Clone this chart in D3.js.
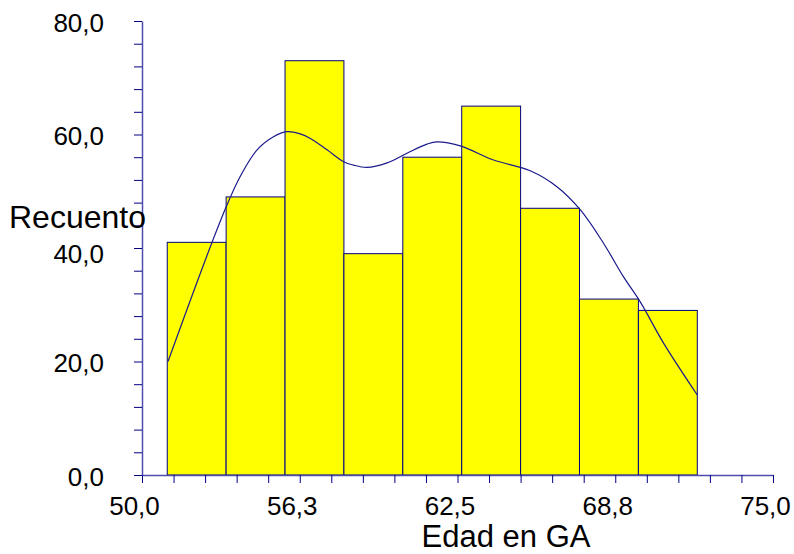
<!DOCTYPE html>
<html>
<head>
<meta charset="utf-8">
<script src="https://cdn.jsdelivr.net/npm/d3@7"></script>
<style>
  html, body { margin: 0; padding: 0; background: #ffffff; }
  svg { display: block; font-family: "Liberation Sans", Arial, sans-serif; }
</style>
</head>
<body>
<svg id="chart" width="794" height="554"></svg>
<script>
// ---- data ----
const binEdges = [51, 53.333, 55.667, 58, 60.333, 62.667, 65, 67.333, 69.667, 72];
const counts = [41, 49, 73, 39, 56, 65, 47, 31, 29];
const curveX = [51.03, 52.51, 53.34, 53.89, 54.56, 55.21, 55.74, 56.27, 56.67, 57.33, 57.99, 58.38, 58.91, 59.71, 60.50, 61.29, 61.69, 62.61, 63.93, 65.38, 66.44, 67.37, 68.29, 69.08, 69.74, 70.67, 72.0];
const curveY = [20.0, 37.9, 47.3, 52.6, 57.3, 59.6, 60.5, 60.1, 59.3, 57.3, 55.2, 54.6, 54.2, 55.0, 56.7, 58.3, 58.7, 58.0, 55.5, 53.6, 50.8, 46.7, 40.8, 34.9, 30.5, 23.2, 14.1];
const xTickValues = [50, 56.25, 62.5, 68.75, 75];
const xTickLabels = ["50,0", "56,3", "62,5", "68,8", "75,0"];
const yTickValues = [0, 20, 40, 60, 80];
const yTickLabels = ["0,0", "20,0", "40,0", "60,0", "80,0"];
const xTitle = "Edad en GA";
const yTitle = "Recuento";

// ---- drawing ----
const svg = d3.select("#chart");
const navy = "#000080";
const x = d3.scaleLinear().domain([50, 75]).range([142, 773]);
const y = d3.scaleLinear().domain([0, 80]).range([475, 21]);

// bars
const bars = counts.map((c, i) => ({ x0: binEdges[i], x1: binEdges[i + 1], v: c }));
svg.append("g").selectAll("rect").data(bars).join("rect")
  .attr("x", d => x(d.x0))
  .attr("y", d => y(d.v))
  .attr("width", d => x(d.x1) - x(d.x0))
  .attr("height", d => y(0) - y(d.v))
  .attr("fill", "#ffff00")
  .attr("stroke", navy)
  .attr("stroke-width", 1);

// curve
const pts = curveX.map((v, i) => [v, curveY[i]]);
svg.append("path")
  .datum(pts)
  .attr("fill", "none")
  .attr("stroke", "#1a1a8c")
  .attr("stroke-width", 1.2)
  .attr("d", d3.line().x(d => x(d[0])).y(d => y(d[1])).curve(d3.curveCatmullRom.alpha(0.5)));

// x axis
const xMinor = d3.range(0, 21).map(i => 50 + i * 1.25);
const xAxis = svg.append("g")
  .attr("transform", `translate(0,${y(0)})`)
  .call(d3.axisBottom(x).tickValues(xMinor).tickSize(8).tickSizeOuter(0)
    .tickFormat(d => {
      const k = xTickValues.findIndex(v => Math.abs(v - d) < 1e-6);
      return k >= 0 ? xTickLabels[k] : "";
    }));
xAxis.select(".domain").attr("stroke", "#4d4dab").attr("stroke-width", 1.5);
xAxis.selectAll(".tick line").attr("stroke", navy);
xAxis.selectAll(".tick text")
  .attr("fill", "#000")
  .attr("font-size", 26)
  .attr("font-family", "Liberation Sans, Arial, sans-serif")
  .attr("x", -8)
  .attr("y", 40)
  .attr("dy", 0);

// y axis
const yMinor = d3.range(0, 81, 4);
const yAxis = svg.append("g")
  .attr("transform", `translate(${x(50)},0)`)
  .call(d3.axisLeft(y).tickValues(yMinor).tickSize(8).tickSizeOuter(0)
    .tickFormat(d => {
      const k = yTickValues.indexOf(d);
      return k >= 0 ? yTickLabels[k] : "";
    }));
yAxis.select(".domain").attr("stroke", "#4d4dab").attr("stroke-width", 1.5);
yAxis.selectAll(".tick line").attr("stroke", navy);
yAxis.selectAll(".tick text")
  .attr("fill", "#000")
  .attr("font-size", 26)
  .attr("font-family", "Liberation Sans, Arial, sans-serif")
  .attr("x", -38)
  .attr("y", d => (d === 40 ? 5 : 1))
  .attr("dy", "0.36em");

// titles
svg.append("text")
  .attr("x", 506).attr("y", 547)
  .attr("text-anchor", "middle")
  .attr("font-size", 31)
  .attr("fill", "#000")
  .text(xTitle);
svg.append("text")
  .attr("x", 9).attr("y", 228)
  .attr("font-size", 32)
  .attr("fill", "#000")
  .text(yTitle);
</script>
</body>
</html>
